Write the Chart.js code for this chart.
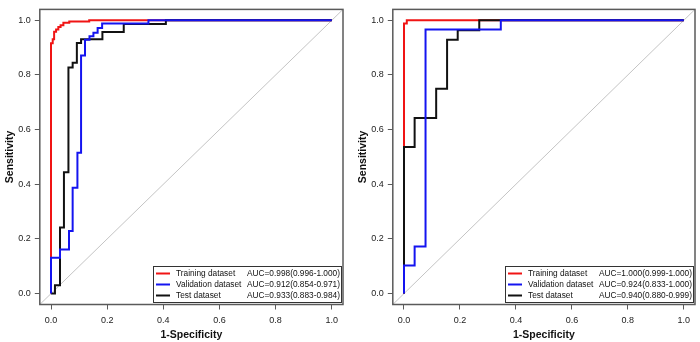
<!DOCTYPE html>
<html>
<head>
<meta charset="utf-8">
<script src="https://cdn.jsdelivr.net/npm/chart.js@4.4.3/dist/chart.umd.min.js"></script>
<style>
  body { margin: 0; background: #fff; }
  .panel { position: absolute; top: 0; width: 350px; height: 342px; }
</style>
</head>
<body>
<div class="panel" style="left:0"><canvas id="rocA" width="350" height="342"></canvas></div>
<div class="panel" style="left:350px"><canvas id="rocB" width="350" height="342"></canvas></div>
<script>
// ROC data (1-specificity, sensitivity corner points)
const SERIES_NAMES = ["Training dataset", "Validation dataset", "Test dataset"];
const AXIS_TICKS = [0, 0.2, 0.4, 0.6, 0.8, 1.0];
const CHANCE_LINE = [-0.04, 1.04];

// left panel
const trainFprA = [0, 0, 0.006, 0.006, 0.011, 0.011, 0.018, 0.018, 0.026, 0.026, 0.034, 0.034, 0.044, 0.044, 0.065, 0.065, 0.136, 0.136, 1];
const trainTprA = [0, 0.916, 0.916, 0.931, 0.931, 0.958, 0.958, 0.966, 0.966, 0.976, 0.976, 0.982, 0.982, 0.991, 0.991, 0.996, 0.996, 1, 1];
const validFprA = [0, 0, 0.032, 0.032, 0.064, 0.064, 0.077, 0.077, 0.094, 0.094, 0.107, 0.107, 0.121, 0.121, 0.137, 0.137, 0.151, 0.151, 0.166, 0.166, 0.182, 0.182, 0.347, 0.347, 1];
const validTprA = [0, 0.131, 0.131, 0.161, 0.161, 0.229, 0.229, 0.387, 0.387, 0.515, 0.515, 0.871, 0.871, 0.929, 0.929, 0.942, 0.942, 0.955, 0.955, 0.972, 0.972, 0.988, 0.988, 1, 1];
const testFprA = [0, 0.014, 0.014, 0.032, 0.032, 0.046, 0.046, 0.062, 0.062, 0.077, 0.077, 0.092, 0.092, 0.107, 0.107, 0.183, 0.183, 0.259, 0.259, 0.409, 0.409, 1];
const testTprA = [0, 0, 0.030, 0.030, 0.242, 0.242, 0.444, 0.444, 0.827, 0.827, 0.845, 0.845, 0.917, 0.917, 0.931, 0.931, 0.957, 0.957, 0.987, 0.987, 1, 1];
const aucTextA = ["AUC=0.998(0.996-1.000)", "AUC=0.912(0.854-0.971)", "AUC=0.933(0.883-0.984)"];

// right panel
const trainFprB = [0, 0, 0.010, 0.010, 1];
const trainTprB = [0, 0.988, 0.988, 1, 1];
const validFprB = [0, 0, 0.038, 0.038, 0.077, 0.077, 0.346, 0.346, 1];
const validTprB = [0, 0.103, 0.103, 0.172, 0.172, 0.966, 0.966, 1, 1];
const testFprB = [0, 0, 0.038, 0.038, 0.115, 0.115, 0.154, 0.154, 0.192, 0.192, 0.269, 0.269, 1];
const testTprB = [0, 0.536, 0.536, 0.643, 0.643, 0.750, 0.750, 0.929, 0.929, 0.964, 0.964, 1, 1];
const aucTextB = ["AUC=1.000(0.999-1.000)", "AUC=0.924(0.833-1.000)", "AUC=0.940(0.880-0.999)"];

const COLORS = ["#f01414", "#1414f0", "#111111"];
const FONT = '"Liberation Sans", Arial, sans-serif';

const toPoints = (xs, ys) => xs.map((x, i) => ({ x, y: ys[i] }));

// box round the plot region + R-style legend in the lower right corner
const boxAndLegend = {
  id: "boxAndLegend",
  afterDraw(chart, args, opts) {
    const { ctx, chartArea: a } = chart;
    ctx.save();
    ctx.strokeStyle = "#5a5a5a";
    ctx.lineWidth = 1.5;
    ctx.strokeRect(a.left, a.top, a.right - a.left, a.bottom - a.top);

    const w = 188, h = 36;
    const x0 = Math.round(a.right - 2 - w), y0 = Math.round(a.bottom - 2.5 - h);
    ctx.fillStyle = "#fff";
    ctx.fillRect(x0, y0, w, h);
    ctx.lineWidth = 1;
    ctx.strokeStyle = "#333";
    ctx.strokeRect(x0 + 0.5, y0 + 0.5, w, h);
    ctx.font = "8.3px " + FONT;
    ctx.textBaseline = "middle";
    opts.auc.forEach((t, i) => {
      const y = y0 + 7.5 + i * 11;
      ctx.strokeStyle = COLORS[i];
      ctx.lineWidth = 2;
      ctx.beginPath();
      ctx.moveTo(x0 + 3, y);
      ctx.lineTo(x0 + 17, y);
      ctx.stroke();
      ctx.fillStyle = "#111";
      ctx.fillText(SERIES_NAMES[i], x0 + 23, y);
      ctx.fillText(t, x0 + 94, y);
    });
    ctx.restore();
  },
};

function axis(title, fitSize, horizontal, titlePad) {
  return {
    type: "linear",
    min: CHANCE_LINE[0],
    max: CHANCE_LINE[1],
    afterBuildTicks: (s) => { s.ticks = AXIS_TICKS.map((v) => ({ value: v })); },
    afterFit: (s) => { if (horizontal) s.height = fitSize; else s.width = fitSize; },
    grid: { drawOnChartArea: false, drawTicks: true, tickLength: 5, color: "#5a5a5a", lineWidth: 1 },
    border: { display: false },
    ticks: {
      padding: horizontal ? 6 : 4,
      color: "#222",
      font: { family: FONT, size: 9 },
      callback: (v) => v.toFixed(1),
    },
    title: {
      display: true,
      text: title,
      color: "#111",
      font: { family: FONT, size: 10.5, weight: "bold" },
      padding: titlePad,
    },
  };
}

function renderRoc(canvasId, series, auc, yAxisWidth, rightPad, yTitlePad) {
  const datasets = series.map((pts, i) => ({
    label: SERIES_NAMES[i],
    data: pts,
    borderColor: COLORS[i],
    borderWidth: 2,
    pointRadius: 0,
    showLine: true,
    tension: 0,
    // validation on top, then test, then training (as in the figure)
    order: [2, 0, 1][i],
  }));
  datasets.push({
    label: "chance",
    data: toPoints(CHANCE_LINE, CHANCE_LINE),
    borderColor: "#c4c4c4",
    borderWidth: 1,
    pointRadius: 0,
    showLine: true,
    order: 3,
  });

  return new Chart(document.getElementById(canvasId), {
    type: "scatter",
    data: { datasets },
    options: {
      responsive: false,
      animation: false,
      devicePixelRatio: 1,
      layout: { padding: { top: 2, right: rightPad, bottom: 0, left: 0 } },
      plugins: { legend: { display: false }, tooltip: { enabled: false }, boxAndLegend: { auc } },
      scales: {
        x: axis("1-Specificity", 37.5, true, { top: 0, bottom: 1 }),
        y: axis("Sensitivity", yAxisWidth, false, { top: yTitlePad, bottom: 0 }),
      },
    },
    plugins: [boxAndLegend],
  });
}

renderRoc("rocA", [
  toPoints(trainFprA, trainTprA),
  toPoints(validFprA, validTprA),
  toPoints(testFprA, testTprA),
], aucTextA, 39.8, 7, 3.5);

renderRoc("rocB", [
  toPoints(trainFprB, trainTprB),
  toPoints(validFprB, validTprB),
  toPoints(testFprB, testTprB),
], aucTextB, 42.8, 5, 6.5);
</script>
</body>
</html>
